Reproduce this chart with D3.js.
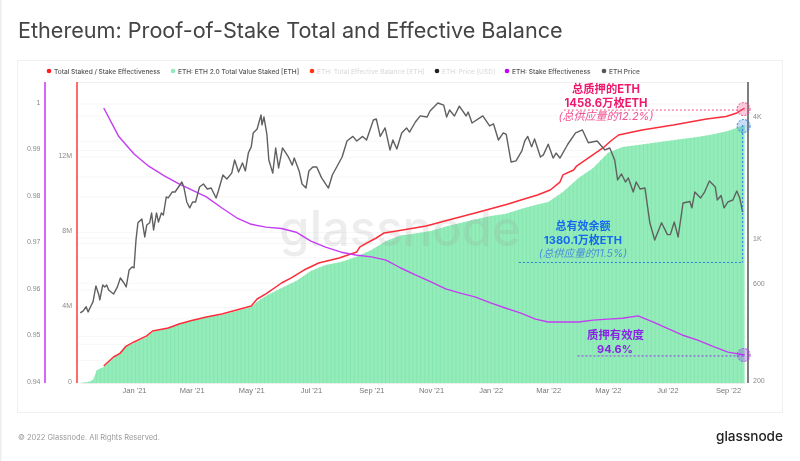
<!DOCTYPE html>
<html>
<head>
<meta charset="utf-8">
<script src="https://cdn.jsdelivr.net/npm/d3@7"></script>
<style>
  html, body { margin: 0; padding: 0; background: #fff; }
  svg { display: block; font-family: Inter, "Noto Sans CJK SC", sans-serif; filter: blur(0.35px); }
  .tick text { fill: #8a8a8a; font-size: 7px; }
  .xaxis .tick text { fill: #777; font-size: 7.5px; }
</style>
</head>
<body>
<div id="chart"></div>
<script>
// Dates of the samples
var stakedDates = ["2020-11-07","2020-11-15","2020-11-20","2020-11-24","2020-12-01","2020-12-16","2020-12-22","2021-01-01","2021-01-14","2021-01-20","2021-02-01","2021-02-16","2021-03-01","2021-03-16","2021-04-01","2021-04-16","2021-05-01","2021-05-08","2021-05-16","2021-06-01","2021-06-16","2021-07-01","2021-07-16","2021-08-01","2021-08-16","2021-09-01","2021-09-16","2021-10-01","2021-10-16","2021-11-01","2021-11-16","2021-12-01","2021-12-16","2022-01-01","2022-01-16","2022-02-01","2022-02-16","2022-03-01","2022-03-16","2022-04-01","2022-04-16","2022-05-01","2022-05-16","2022-06-01","2022-06-16","2022-07-01","2022-07-16","2022-08-01","2022-08-16","2022-09-01","2022-09-18"];
// ETH 2.0 total value staked, millions of ETH
var stakedValues = [0,0.05,0.16,0.69,0.85,1.54,1.91,2.12,2.44,2.71,2.87,3.13,3.29,3.50,3.61,3.82,4.04,4.35,4.62,5.05,5.42,5.95,6.27,6.43,6.69,7.06,7.54,7.83,7.94,8.07,8.31,8.50,8.68,8.87,8.97,9.24,9.45,9.61,10.14,10.89,11.42,12.21,12.53,12.64,12.75,12.85,12.96,13.06,13.20,13.38,13.70];

// Total staked / stake effectiveness, millions of ETH
var ratioDates = ["2020-12-01","2020-12-11","2020-12-18","2020-12-24","2021-01-01","2021-01-14","2021-01-20","2021-02-05","2021-02-16","2021-03-01","2021-03-16","2021-04-01","2021-04-16","2021-05-01","2021-05-07","2021-05-16","2021-06-01","2021-06-11","2021-06-24","2021-07-09","2021-07-30","2021-08-14","2021-08-17","2021-08-20","2021-08-27","2021-09-06","2021-09-14","2021-10-03","2021-10-27","2021-11-19","2021-12-20","2022-01-19","2022-02-01","2022-02-18","2022-03-03","2022-03-13","2022-03-16","2022-03-27","2022-03-30","2022-04-26","2022-05-04","2022-05-12","2022-06-05","2022-07-07","2022-08-10","2022-08-30","2022-09-10","2022-09-18"];
var ratioValues = [0.90,1.38,1.59,1.96,2.18,2.50,2.76,2.92,3.13,3.32,3.50,3.66,3.88,4.09,4.46,4.73,5.31,5.58,6.00,6.37,6.64,6.90,6.96,7.22,7.43,7.70,7.97,8.13,8.34,8.66,9.08,9.51,9.72,9.98,10.25,10.67,11.05,11.31,11.52,12.48,12.85,13.17,13.44,13.70,14.02,14.15,14.34,14.60];

// Stake effectiveness
var effDates = ["2020-12-01","2020-12-16","2021-01-01","2021-01-16","2021-02-01","2021-02-16","2021-03-01","2021-03-16","2021-04-01","2021-04-16","2021-05-01","2021-05-16","2021-06-01","2021-06-16","2021-07-01","2021-07-16","2021-08-01","2021-08-16","2021-09-01","2021-09-16","2021-10-01","2021-10-16","2021-11-01","2021-11-16","2021-12-01","2021-12-16","2022-01-01","2022-01-16","2022-02-01","2022-02-16","2022-03-01","2022-03-16","2022-04-01","2022-04-16","2022-05-01","2022-05-16","2022-06-01","2022-06-16","2022-07-01","2022-07-16","2022-08-01","2022-08-16","2022-09-01","2022-09-18"];
var effValues = [0.9987,0.9927,0.9888,0.9862,0.9841,0.9824,0.9811,0.9796,0.9772,0.9751,0.9737,0.9731,0.9728,0.9720,0.9701,0.9688,0.9677,0.9671,0.9667,0.9660,0.9643,0.9628,0.9613,0.9598,0.9589,0.9581,0.9568,0.9557,0.9546,0.9533,0.9527,0.9527,0.9527,0.9531,0.9533,0.9535,0.9540,0.9527,0.9513,0.9499,0.9488,0.9475,0.9462,0.9456];

// ETH price: days since 1 Jan 2021, and USD
var priceDays = [-55,-52,-49,-47,-44,-42,-39,-36,-35,-32,-30,-28,-26,-21,-17,-14,-11,-8,-5,-2,0,2,4,8,11,13,16,18,20,23,25,28,30,33,35,39,42,49,51,54,57,60,63,67,71,75,79,84,86,91,95,100,103,107,111,114,117,120,122,126,130,131,133,136,138,142,145,148,152,158,162,164,169,172,176,179,183,187,192,199,203,213,218,224,228,234,238,245,248,252,257,262,265,269,274,279,282,288,293,300,303,311,317,320,323,328,333,340,342,346,357,364,368,373,378,381,386,391,397,400,403,407,410,416,419,424,429,432,436,444,452,459,465,474,482,487,492,495,499,503,506,511,514,518,523,528,533,540,546,549,553,557,562,569,571,574,580,584,589,595,597,601,604,608,613,617,620,623];
var priceValues = [428,438,459,433,464,485,581,525,496,588,575,588,555,530,575,636,608,575,697,721,713,979,1190,1242,1013,1160,1190,1330,1097,1330,1200,1330,1300,1595,1577,1687,1687,1890,1785,1507,1410,1507,1507,1785,1848,1745,1765,1577,1687,2047,1956,2090,2426,2117,2345,2142,2625,2815,3296,3450,4044,3610,3950,3240,2426,2090,2780,2216,2780,2510,2290,2480,2142,1848,1765,2142,2240,2240,1980,1765,2047,2510,3010,3170,3010,3170,3044,3819,3862,3170,3490,2718,3044,2750,3296,3490,3330,3733,4000,3950,4230,4630,4520,3950,4278,3995,4470,3995,4180,3690,4000,3570,3650,3044,3296,3240,2370,2400,2690,3010,3170,2815,3080,2510,2570,2900,2480,2625,2480,2900,3296,3410,2950,3010,2718,2780,2426,1934,2070,1890,1980,1687,1890,1745,1765,1190,979,1190,1040,1040,1200,1013,1490,1515,1410,1687,1577,1687,1910,1785,1541,1620,1410,1507,1541,1706,1577,1345];

// Axis ticks
var effTicks = [0.94,0.95,0.96,0.97,0.98,0.99,1];
var stakedTicks = [0,4,8,12];
var priceTicks = [200,600,1000,4000];
var priceGrid = [250,300,400,600,800,1000,2000,3000,4000];

var legendNames = ["Total Staked / Stake Effectiveness","ETH: ETH 2.0 Total Value Staked [ETH]","ETH: Total Effective Balance [ETH]","ETH: Price [USD]","ETH: Stake Effectiveness","ETH Price"];
var legendDots = ["#ff1f1f","#92ebb8","#ff3311","#222222","#c400ff","#555555"];
var legendInks = ["#555","#555","#dcdcdc","#dcdcdc","#555","#555"];
var legendStarts = [49,173,312,437,507,604];

var parseDay = d3.utcParse("%Y-%m-%d");
var jan2021 = parseDay("2021-01-01");

var svg = d3.select("#chart").append("svg")
    .attr("width", 800)
    .attr("height", 461);

// Page furniture
svg.append("rect").attr("width", 1.5).attr("height", 461).attr("fill", "#eeeeee");
svg.append("rect")
    .attr("x", 17.5).attr("y", 60.5)
    .attr("width", 765).attr("height", 352)
    .attr("fill", "#fff")
    .attr("stroke", "#f0f0f0");

svg.append("text")
    .attr("x", 18).attr("y", 38)
    .attr("font-size", 21.62)
    .attr("fill", "#444")
    .text("Ethereum: Proof-of-Stake Total and Effective Balance");

svg.append("text")
    .attr("x", 18).attr("y", 440)
    .attr("font-size", 7.5)
    .attr("fill", "#9a9a9a")
    .text("© 2022 Glassnode. All Rights Reserved.");

svg.append("text")
    .attr("x", 783).attr("y", 441)
    .attr("text-anchor", "end")
    .attr("font-size", 13.6)
    .attr("font-weight", 500)
    .attr("fill", "#222")
    .text("glassnode");

// Legend
legendNames.forEach(function(name, i) {
    svg.append("circle")
        .attr("cx", legendStarts[i]).attr("cy", 71).attr("r", 2.3)
        .attr("fill", legendDots[i]);
    svg.append("text")
        .attr("x", legendStarts[i] + 5).attr("y", 73.5)
        .attr("font-size", 6.55)
        .attr("font-weight", 500)
        .attr("fill", legendInks[i])
        .text(name);
});

// Scales
var x = d3.scaleUtc()
    .domain([parseDay("2020-11-07"), parseDay("2022-09-18")])
    .range([80.3, 744.6]);
var yEff = d3.scaleLinear().domain([0.94, 1]).range([381, 102]);
var yStaked = d3.scaleLinear().domain([0, 16]).range([383, 81.7]);
var yPrice = d3.scaleLog().domain([200, 8000]).range([380, 54.8]);

// Faint grid of all three axes
var gridYs = effTicks.map(function(d) { return yEff(d) + 2; })
    .concat(stakedTicks.slice(1).map(function(d) { return yStaked(d); }))
    .concat(priceGrid.map(function(d) { return yPrice(d); }));
svg.append("g").selectAll("line")
    .data(gridYs)
  .enter().append("line")
    .attr("x1", 78).attr("x2", 747)
    .attr("y1", function(d) { return d; })
    .attr("y2", function(d) { return d; })
    .attr("stroke", "#f6f6f6");
svg.append("line")
    .attr("x1", 78).attr("x2", 747).attr("y1", 82.5).attr("y2", 82.5)
    .attr("stroke", "#efefef");

// Green columns: outline from the readings, thin stripes clipped inside it
var stakedData = stakedDates.map(function(d, i) { return { date: parseDay(d), value: stakedValues[i] }; });
var stakedArea = d3.area()
    .x(function(d) { return x(d.date); })
    .y0(yStaked(0))
    .y1(function(d) { return yStaked(d.value); });

svg.append("clipPath").attr("id", "stakedClip")
    .append("path").attr("d", stakedArea(stakedData));

svg.append("path")
    .attr("d", stakedArea(stakedData))
    .attr("fill", "#93ecb9");

svg.append("g").attr("clip-path", "url(#stakedClip)")
    .selectAll("rect")
    .data(d3.utcDay.range(x.domain()[0], x.domain()[1], 4))
  .enter().append("rect")
    .attr("x", function(d) { return x(d); })
    .attr("y", 82)
    .attr("width", 1)
    .attr("height", 301)
    .attr("fill", "#87e6af");

// Watermark
svg.append("text")
    .attr("x", 400).attr("y", 246)
    .attr("text-anchor", "middle")
    .attr("font-size", 49)
    .attr("font-weight", 500)
    .attr("fill", "#9a9a9a")
    .attr("fill-opacity", 0.18)
    .text("glassnode");

// Axes
var xAxis = d3.axisBottom(x)
    .ticks(d3.utcMonth.every(2))
    .tickFormat(d3.utcFormat("%b '%y"))
    .tickSize(0);
svg.append("g").attr("class", "xaxis")
    .attr("transform", "translate(0,385)")
    .call(xAxis)
    .call(function(g) { g.select(".domain").attr("stroke", "#ececec").attr("transform", "translate(0,-2)"); });

var effAxis = d3.axisLeft(yEff).tickValues(effTicks).tickSize(0).tickPadding(0)
    .tickFormat(function(d) { return d; });
svg.append("g").attr("transform", "translate(40.5,0)").call(effAxis)
    .call(function(g) { g.select(".domain").remove(); });

var stakedAxis = d3.axisLeft(yStaked).tickValues(stakedTicks).tickSize(0).tickPadding(0)
    .tickFormat(function(d) { return d === 0 ? "0" : d + "M"; });
svg.append("g").attr("transform", "translate(72,-2)").call(stakedAxis)
    .call(function(g) { g.select(".domain").remove(); });

var priceAxis = d3.axisRight(yPrice).tickValues(priceTicks).tickSize(0).tickPadding(0)
    .tickFormat(function(d) { return d >= 1000 ? d / 1000 + "K" : d; });
svg.append("g").attr("transform", "translate(753,0)").call(priceAxis)
    .call(function(g) { g.select(".domain").remove(); });

// Coloured axis rules
[[45, "#cf40f8", 1.6], [77, "#ff6b6b", 2], [748, "#555555", 1.5]].forEach(function(r) {
    svg.append("line")
        .attr("x1", r[0]).attr("x2", r[0]).attr("y1", 82).attr("y2", 383)
        .attr("stroke", r[1]).attr("stroke-width", r[2]);
});

// Lines
function drawLine(data, yScale, color, width) {
    var line = d3.line()
        .x(function(d) { return x(d.date); })
        .y(function(d) { return yScale(d.value); });
    svg.append("path")
        .attr("d", line(data))
        .attr("fill", "none")
        .attr("stroke", color)
        .attr("stroke-width", width)
        .attr("stroke-linejoin", "round");
}

var ratioData = ratioDates.map(function(d, i) { return { date: parseDay(d), value: ratioValues[i] }; });
var effData = effDates.map(function(d, i) { return { date: parseDay(d), value: effValues[i] }; });
var priceData = priceDays.map(function(d, i) { return { date: d3.utcDay.offset(jan2021, d), value: priceValues[i] }; });

drawLine(ratioData, yStaked, "#fb2d3a", 1.5);
drawLine(effData, yEff, "#c43cf2", 1.4);
drawLine(priceData, yPrice, "#606060", 1.4);

// Annotations, anchored on the last readings
var lastDate = parseDay("2022-09-18");
var endX = x(lastDate);
var ratioY = yStaked(14.6);
var stakedY = yStaked(13.7);
var effY = yEff(0.9456);

function dashed(x1, y1, x2, y2, color) {
    svg.append("line")
        .attr("x1", x1).attr("y1", y1).attr("x2", x2).attr("y2", y2)
        .attr("stroke", color)
        .attr("stroke-width", 1)
        .attr("stroke-dasharray", "2,2");
}
function marker(cy, fill, color) {
    svg.append("circle")
        .attr("cx", endX - 1).attr("cy", cy).attr("r", 6.5)
        .attr("fill", fill).attr("fill-opacity", 0.3)
        .attr("stroke", color)
        .attr("stroke-dasharray", "2,1.5");
}
function note(cx, cy, str, color, size, weight, italic) {
    svg.append("text")
        .attr("x", cx).attr("y", cy)
        .attr("text-anchor", "middle")
        .attr("dominant-baseline", "middle")
        .attr("font-size", size)
        .attr("font-weight", weight)
        .attr("font-style", italic ? "italic" : "normal")
        .attr("fill", color)
        .text(str);
}

dashed(x(parseDay("2022-03-17")), ratioY + 2, endX, ratioY + 2, "#f2508c");
marker(ratioY + 1, "#f2508c", "#f2508c");
dashed(endX - 2, stakedY, endX - 2, yStaked(6.4), "#2f7fe0");
dashed(x(parseDay("2022-01-30")), yStaked(6.4), endX - 2, yStaked(6.4), "#2f7fe0");
marker(stakedY + 1, "#4a90e0", "#2f7fe0");
dashed(x(parseDay("2022-03-31")), effY + 1, endX, effY + 1, "#a030f0");
marker(effY, "#a030f0", "#b040f0");

note(606, 90, "总质押的ETH", "#f0196e", 11.3, 700);
note(606, 103.5, "1458.6万枚ETH", "#f0196e", 11.3, 700);
note(606, 117, "(总供应量的12.2%)", "#f4508f", 11, 400, true);
note(583, 227, "总有效余额", "#1469f0", 11, 700);
note(583, 240.5, "1380.1万枚ETH", "#1469f0", 11, 700);
note(583, 254.5, "(总供应量的11.5%)", "#4a8ed8", 10.5, 400, true);
note(615.5, 336, "质押有效度", "#8a22e8", 11.4, 700);
note(615, 349.5, "94.6%", "#8a22e8", 11, 700);
</script>
</body>
</html>
